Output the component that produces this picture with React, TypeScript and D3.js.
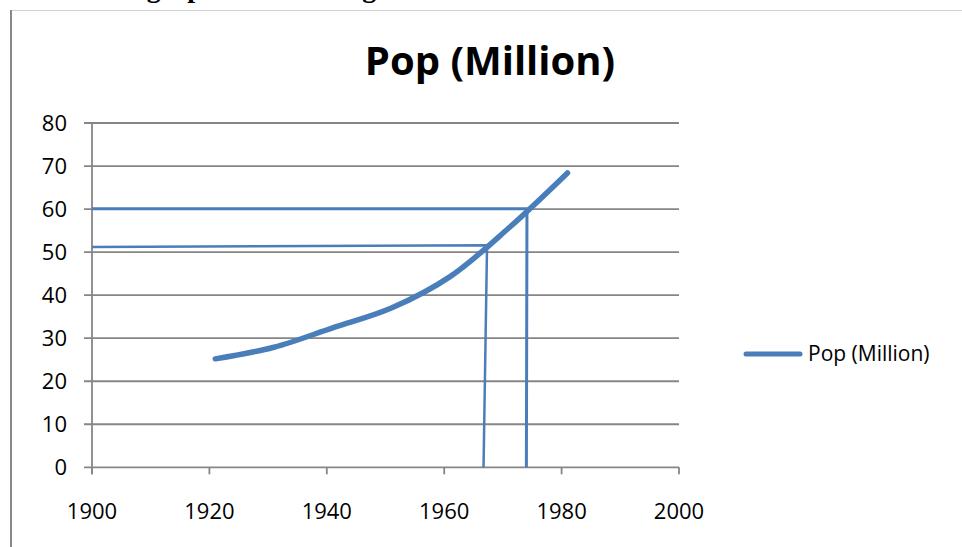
import React from 'react';
import * as d3 from 'd3';

const WIDTH = 962;
const HEIGHT = 547;

// population series (Excel smoothed line)
const years = [1921, 1931, 1941, 1951, 1961, 1971, 1981];
const pop = [25.2, 27.9, 32.4, 37.0, 44.3, 55.6, 68.4];

// hand drawn read-off lines: [year, value]
const readOff60: [number, number][] = [[1900, 60.1], [1974.1, 60.1], [1974.0, 0]];
const readOff51: [number, number][] = [[1900, 51.2], [1967.3, 51.6], [1966.7, 0]];

const xTicks = [1900, 1920, 1940, 1960, 1980, 2000];
const yTicks = [0, 10, 20, 30, 40, 50, 60, 70, 80];

const TITLE = 'Pop (Million)';
const SERIES = 'Pop (Million)';

const BLUE = '#4a7ebb';
const GRID = '#868686';
const FONT = "'Open Sans', 'Noto Sans', sans-serif";

const App = () => {
  const x = d3.scaleLinear().domain([1900, 2000]).range([92, 679]);
  const y = d3.scaleLinear().domain([0, 80]).range([467.3, 123]);

  const line = d3
    .line<[number, number]>()
    .x((d) => x(d[0]))
    .y((d) => y(d[1]))
    .curve(d3.curveCatmullRom.alpha(0.5));

  const straight = d3
    .line<[number, number]>()
    .x((d) => x(d[0]))
    .y((d) => y(d[1]));

  const series: [number, number][] = years.map((yr, i) => [yr, pop[i]]);

  return (
    <svg
      width={WIDTH}
      height={HEIGHT}
      style={{ position: 'absolute', left: 0, top: 0, background: '#fff' }}
    >
      {/* page text cut off above the chart */}
      <text
        x={52}
        y={-3}
        fontFamily="'Liberation Serif', serif"
        fontWeight="bold"
        fontSize={28}
        fill="#000"
      >
        Use the graph to estimate growth
      </text>

      {/* chart frame */}
      <line x1={11} x2={WIDTH} y1={10.5} y2={10.5} stroke="#d0d0d0" strokeWidth={1} />
      <line x1={11} x2={11} y1={10} y2={HEIGHT} stroke="#888" strokeWidth={2} />

      <text
        x={490}
        y={75}
        textAnchor="middle"
        fontFamily={FONT}
        fontWeight="bold"
        fontSize={40}
        fill="#000"
      >
        {TITLE}
      </text>

      {/* gridlines + y ticks */}
      {yTicks.map((t) => (
        <g key={t}>
          <line x1={84} x2={x(2000)} y1={y(t)} y2={y(t)} stroke={GRID} strokeWidth={1.8} />
          <text
            x={67}
            y={y(t)}
            dy="0.35em"
            textAnchor="end"
            fontFamily={FONT}
            fontSize={22}
            fill="#000"
          >
            {t}
          </text>
        </g>
      ))}

      {/* y axis line */}
      <line x1={x(1900)} x2={x(1900)} y1={y(80)} y2={y(0) + 7} stroke={GRID} strokeWidth={1.8} />

      {/* x ticks */}
      {xTicks.map((t) => (
        <g key={t}>
          <line x1={x(t)} x2={x(t)} y1={y(0)} y2={y(0) + 7} stroke={GRID} strokeWidth={1.8} />
          <text
            x={x(t)}
            y={519}
            textAnchor="middle"
            fontFamily={FONT}
            fontSize={22}
            fill="#000"
          >
            {t}
          </text>
        </g>
      ))}

      {/* read-off lines */}
      <path d={straight(readOff60) ?? ''} fill="none" stroke={BLUE} strokeWidth={3} />
      <path d={straight(readOff51) ?? ''} fill="none" stroke={BLUE} strokeWidth={2.5} />

      {/* series */}
      <path
        d={line(series) ?? ''}
        fill="none"
        stroke={BLUE}
        strokeWidth={5.5}
        strokeLinecap="round"
        strokeLinejoin="round"
      />

      {/* legend */}
      <line x1={746} x2={800} y1={354} y2={354} stroke={BLUE} strokeWidth={5} strokeLinecap="round" />
      <text x={808} y={354} dy="0.35em" fontFamily={FONT} fontSize={21} fill="#000">
        {SERIES}
      </text>
    </svg>
  );
};

export default App;
